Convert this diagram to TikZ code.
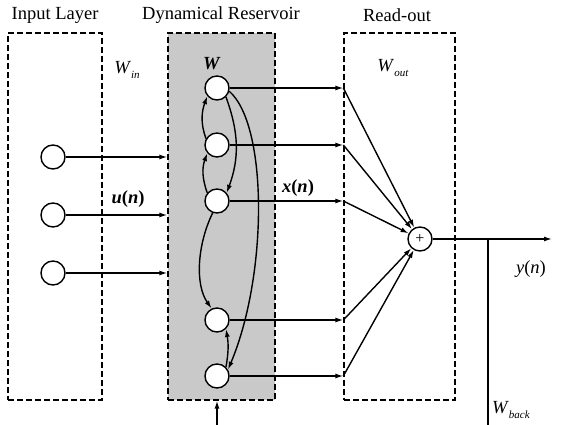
\documentclass[tikz,border=0pt]{standalone}
\usepackage{fontspec}
\setmainfont{Liberation Serif}
\usetikzlibrary{arrows.meta}
\tikzset{
  neuron/.style={circle,draw,fill=white,line width=1.4pt,minimum size=24pt,inner sep=0pt},
  layerbox/.style={draw,line width=1.3pt,dash pattern=on 6pt off 3pt,inner sep=0pt},
  arr/.style={-{Latex[length=8pt,width=5pt]}},
}
\newcommand{\wsub}[1]{\textit{W}\raisebox{-5pt}{\fontsize{11}{11}\selectfont\textit{#1}}}
\begin{document}
\begin{tikzpicture}[x=1pt,y=1pt,line width=1.4pt,font=\fontsize{18.5}{21}\selectfont]
  \useasboundingbox (0,0) rectangle (562,425);
  % layers
  \node [layerbox,minimum width=94pt,minimum height=367pt] (inbox) at (55,208.5) {};
  \node [layerbox,fill=black!21,minimum width=107pt,minimum height=367pt] (resbox) at (221.5,208.5) {};
  \node [layerbox,minimum width=111pt,minimum height=367pt] (outbox) at (399.5,208.5) {};
  \node (tin) at (55,410) {Input Layer};
  \node (tres) at (221,410) {Dynamical Reservoir};
  \node (tout) at (397,410) {Read-out};
  \node (win) at (127,355) {\wsub{in}};
  \node (wres) at (212,361) {\textbf{\textit{W}}};
  \node (wout) at (393,357) {\wsub{out}};
  \node (un) at (128,226) {\textbf{\textit{u}(\textit{n})}};
  \node (xn) at (298,237) {\textbf{\textit{x}(\textit{n})}};
  \node (yn) at (531,156) {\textit{y}(\textit{n})};
  \node (wback) at (511,15) {\wsub{back}};
  % input units
  \foreach \i/\y in {1/268,2/210,3/152} {
    \node [neuron] (u\i) at (53,\y) {};
    \draw [arr] (u\i) -- (u\i -| resbox.west);
  }
  % reservoir units
  \node [neuron] (n1) at (217,337) {};
  \node [neuron] (n2) at (217,280) {};
  \node [neuron] (n3) at (217,224) {};
  \node [neuron] (n4) at (217,105) {};
  \node [neuron] (n5) at (217,49) {};
  \node [neuron,font=\fontsize{16}{16}\selectfont] (sum) at (420,186) {+};
  % recurrent links
  \draw [arr] (n2.150) to [out=110,in=250] (n1.220);
  \draw [arr] (n3.140) to [out=110,in=250] (n2.220);
  \draw [arr] (n1.-45) to [out=-70,in=70] (n3.40);
  \draw [arr] (n1.-15) .. controls (268,300) and (268,150) .. (n5.30);
  \draw [arr] (n3.250) .. controls (197,180) and (195,140) .. (n4.115);
  \draw [arr] (n5.45) to [out=80,in=-80] (n4.-45);
  % read-out
  \foreach \i in {1,...,5} {
    \coordinate (j\i) at (n\i -| outbox.west);
    \draw [arr] (n\i) -- (j\i);
    \draw [arr] (j\i) -- (sum);
  }
  \coordinate (yend) at (552,186);
  \coordinate (br) at (488,186);
  \coordinate (brend) at (488,0);
  \coordinate (fb) at (217,0);
  \draw [arr] (sum) -- (yend);
  \draw (br) -- (brend);
  \draw [arr] (fb) -- (fb |- resbox.south);
\end{tikzpicture}
\end{document}
